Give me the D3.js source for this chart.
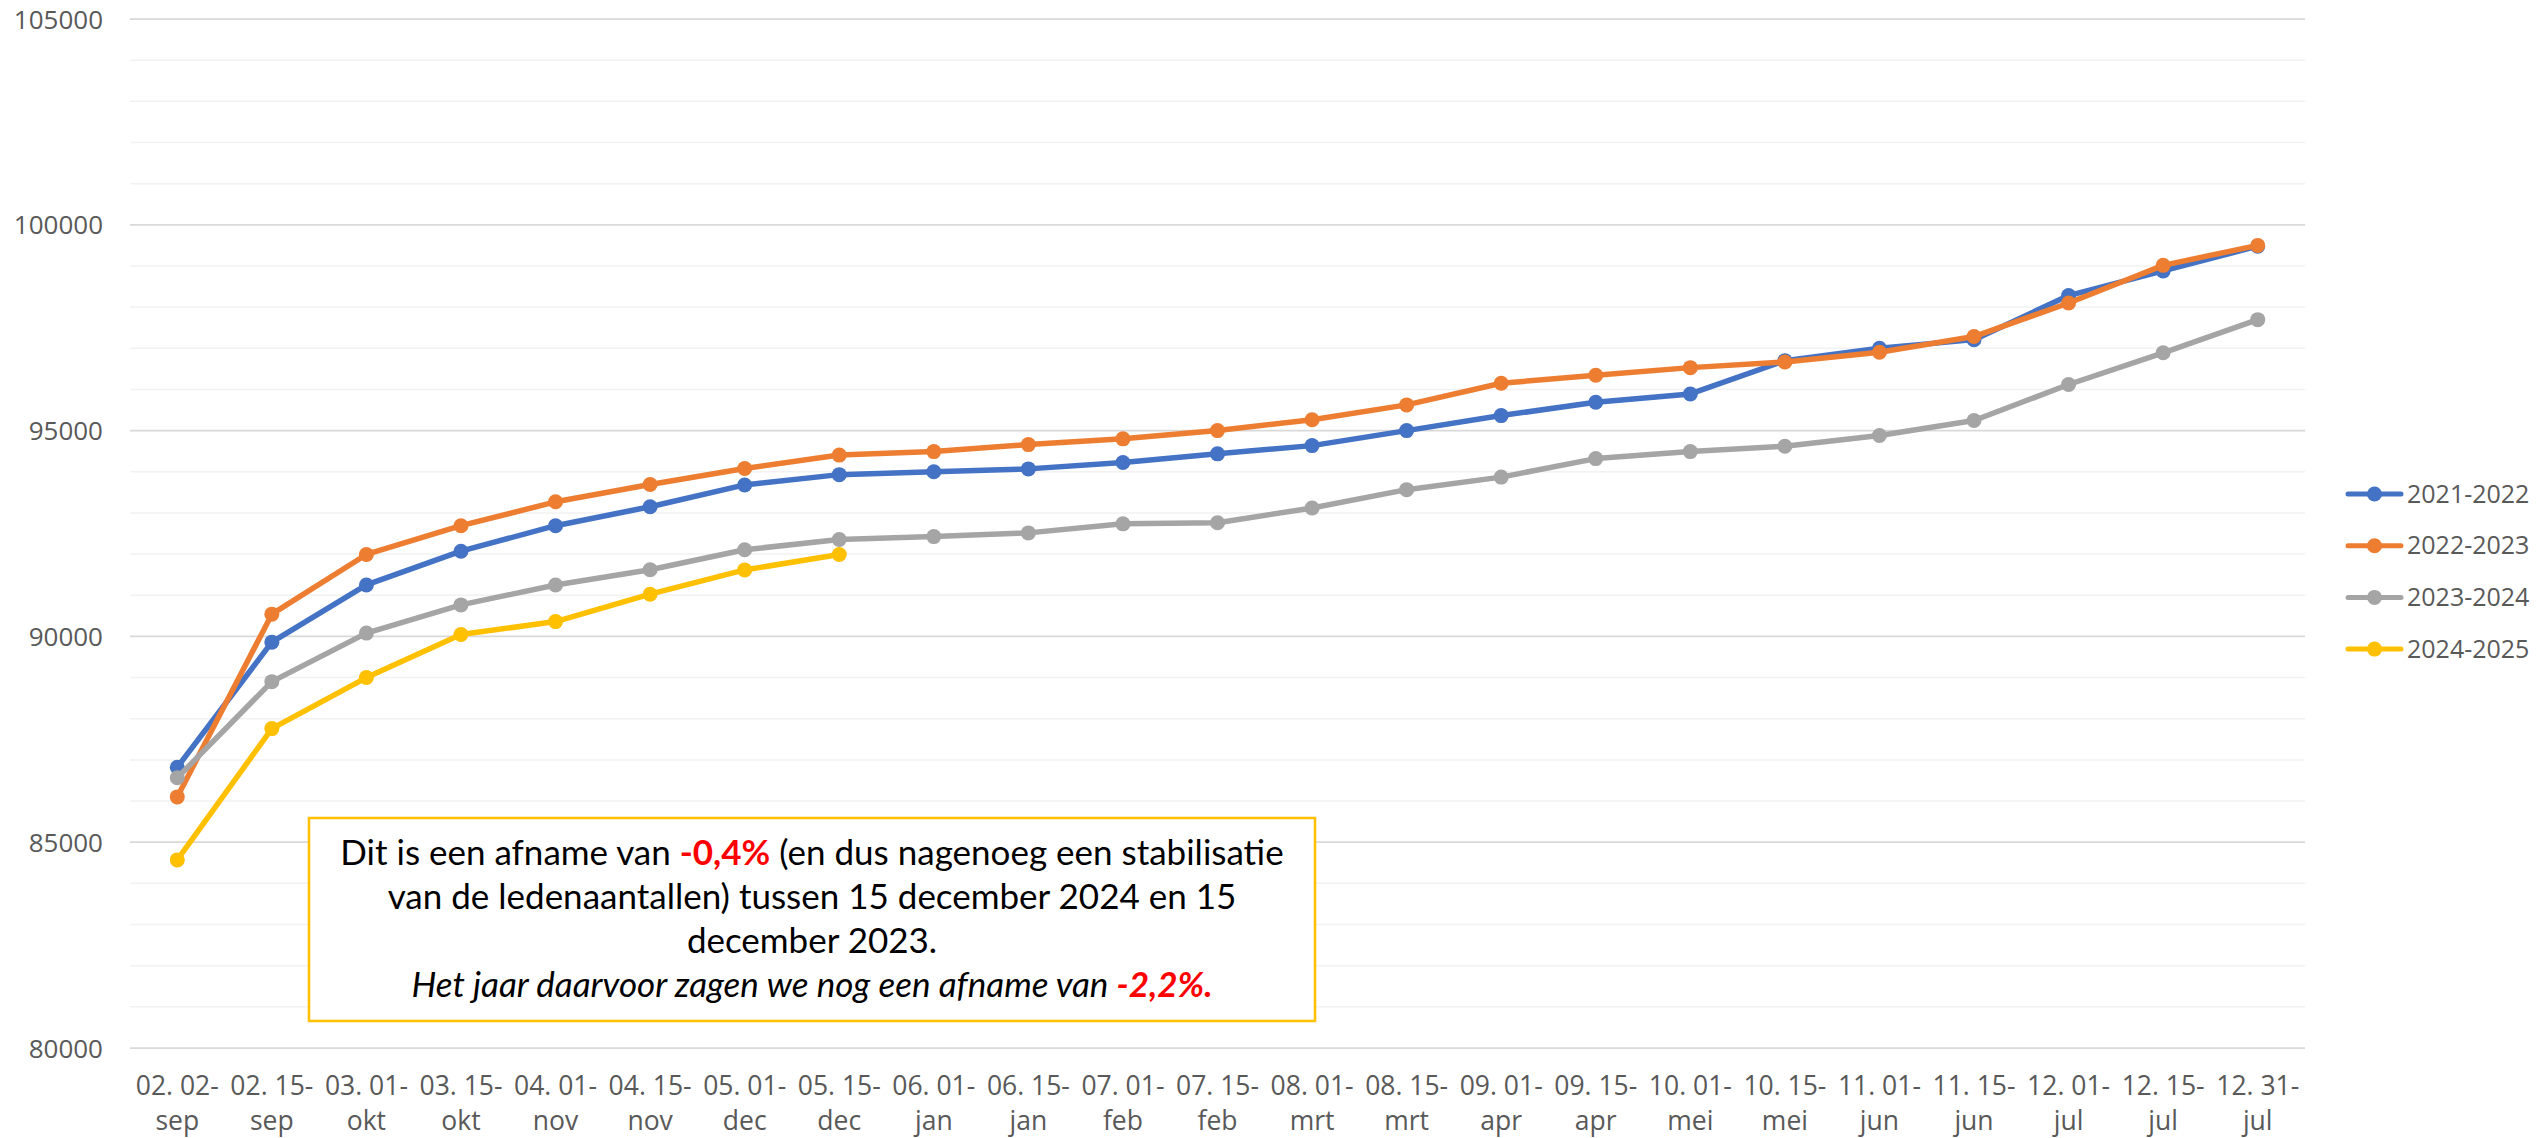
<!DOCTYPE html>
<html>
<head>
<meta charset="utf-8">
<script src="https://cdnjs.cloudflare.com/ajax/libs/d3/7.8.5/d3.min.js"></script>
<style>
  html, body { margin: 0; padding: 0; background: #fff; }
  svg { display: block; }
</style>
</head>
<body>
<svg id="chart" width="2542" height="1138"></svg>
<script>
const categories = ["02. 02-sep","02. 15-sep","03. 01-okt","03. 15-okt","04. 01-nov","04. 15-nov","05. 01-dec","05. 15-dec","06. 01-jan","06. 15-jan","07. 01-feb","07. 15-feb","08. 01-mrt","08. 15-mrt","09. 01-apr","09. 15-apr","10. 01-mei","10. 15-mei","11. 01-jun","11. 15-jun","12. 01-jul","12. 15-jul","12. 31-jul"];

const s2021 = [86820, 89860, 91250, 92070, 92690, 93150, 93680, 93930, 94000, 94070, 94225, 94435, 94635, 95000, 95365, 95690, 95890, 96700, 97000, 97210, 98280, 98880, 99480];
const s2022 = [86100, 90540, 91990, 92690, 93270, 93690, 94080, 94405, 94490, 94660, 94800, 95000, 95265, 95625, 96150, 96345, 96530, 96665, 96905, 97285, 98100, 99015, 99500];
const s2023 = [86565, 88900, 90080, 90765, 91250, 91620, 92105, 92355, 92425, 92515, 92735, 92760, 93120, 93565, 93870, 94320, 94490, 94620, 94880, 95245, 96120, 96890, 97695];
const s2024 = [84570, 87760, 89000, 90045, 90360, 91025, 91615, 91990];

const seriesNames = ["2021-2022", "2022-2023", "2023-2024", "2024-2025"];
const seriesValues = [s2021, s2022, s2023, s2024];
const seriesColors = ["#4472C4", "#ED7D31", "#A5A5A5", "#FFC000"];

const yTicks = [80000, 85000, 90000, 95000, 100000, 105000];
const yMinorTicks = d3.range(80000, 105001, 1000);

const noteLines = [
  [{t: "Dit is een afname van ", red: false}, {t: "-0,4%", red: true}, {t: " (en dus nagenoeg een stabilisatie", red: false}],
  [{t: "van de ledenaantallen) tussen 15 december 2024 en 15", red: false}],
  [{t: "december 2023.", red: false}],
  [{t: "Het jaar daarvoor zagen we nog een afname van ", red: false, it: true}, {t: "-2,2%.", red: true, it: true}]
];

const svg = d3.select("#chart");
const plot = {left: 130, right: 2305, top: 19, bottom: 1048};

const x = d3.scaleBand().domain(categories).range([plot.left, plot.right]).padding(0);
const y = d3.scaleLinear().domain([80000, 105000]).range([plot.bottom, plot.top]);
const cx = c => x(c) + x.bandwidth() / 2;

// minor gridlines
svg.append("g").selectAll("line").data(yMinorTicks.filter(v => v % 5000 !== 0)).join("line")
  .attr("x1", plot.left).attr("x2", plot.right)
  .attr("y1", d => y(d)).attr("y2", d => y(d))
  .attr("stroke", "#F2F2F2").attr("stroke-width", 1.5);
// major gridlines
svg.append("g").selectAll("line").data(yTicks).join("line")
  .attr("x1", plot.left).attr("x2", plot.right)
  .attr("y1", d => y(d)).attr("y2", d => y(d))
  .attr("stroke", "#D9D9D9").attr("stroke-width", 1.75);

// y axis
const yAxis = svg.append("g")
  .attr("transform", `translate(${plot.left - 27},0)`)
  .call(d3.axisLeft(y).tickValues(yTicks).tickSize(0).tickPadding(0).tickFormat(d3.format("d")));
yAxis.select(".domain").remove();
yAxis.selectAll("text")
  .attr("font-family", "'Open Sans', sans-serif").attr("font-size", 26).attr("fill", "#595959")
  .attr("dy", "0.35em");

// x axis
const xAxis = svg.append("g")
  .attr("transform", `translate(0,${plot.bottom})`)
  .call(d3.axisBottom(x).tickSize(0).tickPadding(0));
xAxis.select(".domain").remove();
xAxis.selectAll("text").each(function(d) {
  const t = d3.select(this);
  const idx = d.indexOf("-");
  const l1 = d.slice(0, idx + 1), l2 = d.slice(idx + 1);
  t.text(null).attr("y", 0).attr("dy", null)
    .attr("font-family", "'Open Sans', sans-serif").attr("font-size", 26.5).attr("fill", "#595959")
    .attr("text-anchor", "middle");
  t.append("tspan").attr("x", 0).attr("y", 47).text(l1);
  t.append("tspan").attr("x", 0).attr("y", 82).text(l2);
});

// series
const line = d3.line().x((d, i) => cx(categories[i])).y(d => y(d));
seriesValues.forEach((vals, si) => {
  const g = svg.append("g");
  g.append("path").datum(vals).attr("d", line)
    .attr("fill", "none").attr("stroke", seriesColors[si]).attr("stroke-width", 5.5)
    .attr("stroke-linejoin", "round").attr("stroke-linecap", "round");
  g.selectAll("circle").data(vals).join("circle")
    .attr("cx", (d, i) => cx(categories[i])).attr("cy", d => y(d)).attr("r", 7.5)
    .attr("fill", seriesColors[si]);
});

// legend
const legend = svg.append("g");
seriesNames.forEach((name, i) => {
  const yy = 494 + i * 51.7;
  legend.append("line").attr("x1", 2348).attr("x2", 2401).attr("y1", yy).attr("y2", yy)
    .attr("stroke", seriesColors[i]).attr("stroke-width", 5).attr("stroke-linecap", "round");
  legend.append("circle").attr("cx", 2374.5).attr("cy", yy).attr("r", 7.5).attr("fill", seriesColors[i]);
  legend.append("text").attr("x", 2407).attr("y", yy).attr("dy", "0.35em")
    .attr("font-family", "'Open Sans', sans-serif").attr("font-size", 25).attr("fill", "#595959")
    .text(name);
});

// annotation box
const box = {x: 309, y: 818, w: 1006, h: 203};
svg.append("rect").attr("x", box.x).attr("y", box.y).attr("width", box.w).attr("height", box.h)
  .attr("fill", "#fff").attr("stroke", "#FFC000").attr("stroke-width", 2.5);
const note = svg.append("text").attr("text-anchor", "middle")
  .attr("font-family", "Lato, sans-serif").attr("font-size", 35).attr("fill", "#000");
noteLines.forEach((parts, li) => {
  const row = note.append("tspan").attr("x", box.x + box.w / 2).attr("y", 865 + li * 44);
  parts.forEach((p, pi) => {
    const sp = pi === 0 ? row : note.append("tspan");
    sp.text(p.t);
    if (p.red) sp.attr("fill", "#FF0000").attr("font-weight", "bold");
    if (p.it) sp.attr("font-style", "italic");
  });
});
</script>
</body>
</html>
